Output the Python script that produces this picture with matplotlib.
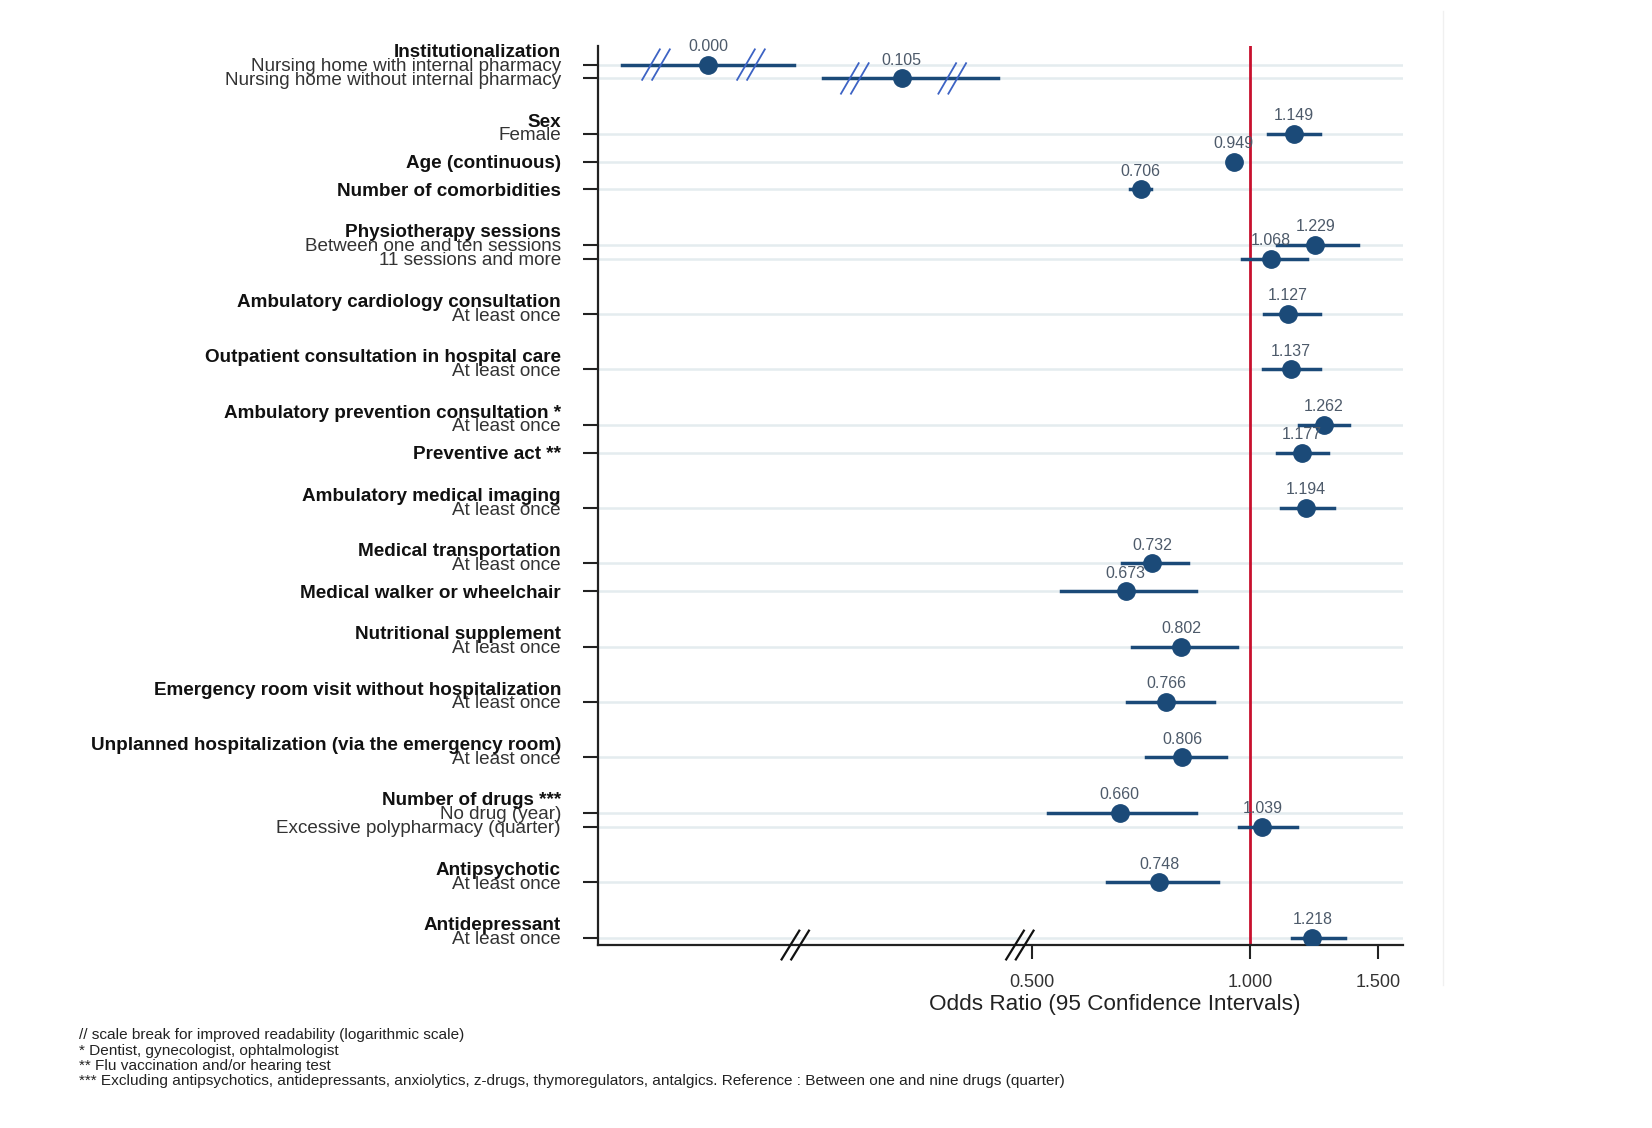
import numpy as np
import matplotlib.pyplot as plt
from matplotlib.lines import Line2D
from matplotlib.transforms import blended_transform_factory

plt.rcParams["font.family"] = ["Liberation Sans", "DejaVu Sans"]

# rows, top to bottom
row_labels = [
    "Nursing home with internal pharmacy",
    "Nursing home without internal pharmacy",
    "Female",
    "Age (continuous)",
    "Number of comorbidities",
    "Between one and ten sessions",
    "11 sessions and more",
    "At least once",
    "At least once",
    "At least once",
    "Preventive act **",
    "At least once",
    "At least once",
    "Medical walker or wheelchair",
    "At least once",
    "At least once",
    "At least once",
    "No drug (year)",
    "Excessive polypharmacy (quarter)",
    "At least once",
    "At least once",
]
row_bold = [False, False, False, True, True, False, False, False, False, False, True,
            False, False, True, False, False, False, False, False, False, False]
odds = [0.000, 0.105, 1.149, 0.949, 0.706, 1.229, 1.068, 1.127, 1.137, 1.262, 1.177,
        1.194, 0.732, 0.673, 0.802, 0.766, 0.806, 0.660, 1.039, 0.748, 1.218]
ci_low = [np.nan, np.nan, 1.059, 0.945, 0.683, 1.087, 0.974, 1.044, 1.041, 1.166, 1.087,
          1.102, 0.666, 0.547, 0.686, 0.675, 0.717, 0.526, 0.964, 0.635, 1.140]
ci_high = [np.nan, np.nan, 1.247, 0.953, 0.730, 1.410, 1.198, 1.247, 1.247, 1.370, 1.281,
           1.303, 0.821, 0.842, 0.957, 0.890, 0.926, 0.842, 1.161, 0.902, 1.350]

group_headers = [
    "Institutionalization",
    "Sex",
    "Physiotherapy sessions",
    "Ambulatory cardiology consultation",
    "Outpatient consultation in hospital care",
    "Ambulatory prevention consultation *",
    "Ambulatory medical imaging",
    "Medical transportation",
    "Nutritional supplement",
    "Emergency room visit without hospitalization",
    "Unplanned hospitalization (via the emergency room)",
    "Number of drugs ***",
    "Antipsychotic",
    "Antidepressant",
]

footnotes = [
    "// scale break for improved readability (logarithmic scale)",
    "* Dentist, gynecologist, ophtalmologist",
    "** Flu vaccination and/or hearing test",
    "*** Excluding antipsychotics, antidepressants, anxiolytics, z-drugs, thymoregulators, "
    "antalgics. Reference : Between one and nine drugs (quarter)",
]

xticks = [0.5, 1.0, 1.5]

# layout
row_pos = [31.5, 31.0, 29.0, 28.0, 27.0, 25.0, 24.5, 22.5, 20.5, 18.5, 17.5,
           15.5, 13.5, 12.5, 10.5, 8.5, 6.5, 4.5, 4.0, 2.0, 0.0]
header_pos = [32.0, 29.5, 25.5, 23.0, 21.0, 19.0, 16.0, 14.0, 11.0, 9.0, 7.0, 5.0, 2.5, 0.5]
# broken-axis slots (axes fraction) for the institutionalization rows
slot_center = [0.137, 0.377]
slot_span = [(0.030, 0.243), (0.279, 0.497)]
slot_marks = [(0.072, 0.190), (0.319, 0.440)]
axis_breaks = [0.245, 0.524]

navy = "#1b4a78"
label_col = "#4d5a6a"

fig = plt.figure(figsize=(16.52, 11.28), dpi=100)
ax = fig.add_axes([0.362, 0.1622, 0.4873, 0.797])
ax.set_xscale("log")
ax.set_xlim(0.1257, 1.625)
ax.set_ylim(-0.27, 32.17)

trans = blended_transform_factory(ax.transAxes, ax.transData)

for y in row_pos:
    ax.axhline(y, color="#e4ecef", lw=1.8, zorder=0)

ax.axvline(1.0, color="#c8102e", lw=2.0, zorder=1)

for i, (o, lo, hi, y) in enumerate(zip(odds, ci_low, ci_high, row_pos)):
    if i < 2:
        x0, x1 = slot_span[i]
        ax.plot([x0, x1], [y, y], color=navy, lw=2.5, transform=trans, zorder=2)
        ax.plot(slot_center[i], y, "o", color=navy, ms=12.5, transform=trans, zorder=3)
        for m in slot_marks[i]:
            for dx in (-0.0062, 0.0062):
                ax.plot([m + dx - 0.011, m + dx + 0.011], [y - 0.55, y + 0.55],
                        color="#3d63c4", lw=1.3, transform=trans, zorder=4)
        ax.annotate(f"{o:.3f}", (slot_center[i], y), xycoords=trans,
                    xytext=(0, 13), textcoords="offset points", ha="center",
                    va="center", fontsize=11.5, color=label_col)
        continue
    ax.plot([lo, hi], [y, y], color=navy, lw=2.5, zorder=2)
    ax.plot(o, y, "o", color=navy, ms=12.5, zorder=3)
    ax.annotate(f"{o:.3f}", (o, y), xytext=(0, 13), textcoords="offset points",
                ha="center", va="center", fontsize=11.5, color=label_col)

# y labels
ax.set_yticks(row_pos)
ax.set_yticklabels([])
ax.tick_params(axis="y", length=11, width=1.5, color="#222222")
for lab, y, b in zip(row_labels, row_pos, row_bold):
    ax.text(-0.046, y, lab, transform=trans, ha="right", va="center_baseline",
            fontsize=13.6, fontweight="bold" if b else "normal",
            color="#111111" if b else "#333333")
for lab, y in zip(group_headers, header_pos):
    ax.text(-0.046, y, lab, transform=trans, ha="right", va="center_baseline",
            fontsize=13.6, fontweight="bold", color="#111111")

# x axis
ax.set_xticks(xticks)
ax.set_xticklabels([f"{t:.3f}" for t in xticks], fontsize=13, color="#333333")
ax.minorticks_off()
ax.tick_params(axis="x", length=10, width=1.5, color="#222222", pad=11)
ax.text(0.642, -0.066, "Odds Ratio (95 Confidence Intervals)", transform=ax.transAxes,
        ha="center", va="center", fontsize=16.2, color="#222222")

for s in ("top", "right"):
    ax.spines[s].set_visible(False)
for s in ("left", "bottom"):
    ax.spines[s].set_linewidth(1.6)
    ax.spines[s].set_color("#222222")

for b in axis_breaks:
    for dx in (-0.006, 0.006):
        ax.plot([b + dx - 0.011, b + dx + 0.011], [-0.016, 0.016], color="#111111",
                lw=1.6, transform=ax.transAxes, clip_on=False, zorder=5)

# faint frame edge of the original panel
fig.add_artist(Line2D([0.8735, 0.8735], [0.127, 0.99], color="#f0f0f0", lw=1.0))

for k, line in enumerate(footnotes):
    fig.text(0.0478, 0.0824 - k * 0.0137, line, fontsize=11.1, color="#222222",
             ha="left", va="center")

fig.savefig("out.png", dpi=100)
